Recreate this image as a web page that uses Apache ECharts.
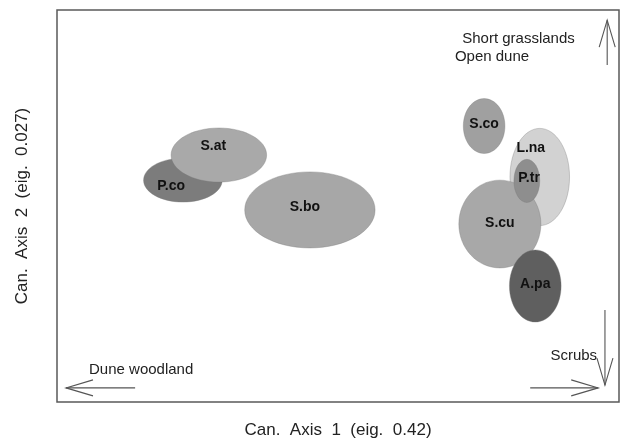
<!DOCTYPE html>
<html><head><meta charset="utf-8">
<script src="https://cdn.jsdelivr.net/npm/echarts@6/dist/echarts.min.js"></script>
<style>html,body{margin:0;padding:0;background:#fff}#c{width:623px;height:445px}</style>
</head><body><div id="c"></div>
<script>
// Species (draw order), centres and semi-axes in canonical-plot units (x 0-100, y 0-100)
const species = ['P.co','S.at','S.bo','S.co','L.na','S.cu','P.tr','A.pa'];
const centerX = [22.4, 28.8, 45.0, 76.0, 85.9, 78.8, 83.6, 85.1];
const centerY = [56.6, 63.0, 49.0, 70.4, 57.4, 45.4, 56.4, 29.6];
const radiusX = [7.0, 8.5, 11.6, 3.7, 5.3, 7.3, 2.3, 4.6];
const radiusY = [5.6, 6.9, 9.7, 7.0, 12.4, 11.2, 5.5, 9.2];
const labelX  = [20.3, 27.8, 44.1, 76.0, 84.3, 78.8, 84.0, 85.1];
const labelY  = [55.1, 65.3, 49.7, 70.9, 64.8, 45.7, 57.1, 30.1];
const fills   = ['#7c7c7c','#a9a9a9','#a7a7a7','#a0a0a0','#d2d2d2','#a8a8a8','#8e8e8e','#5f5f5f'];

// Direction arrows: [fromX, fromY, tipX, tipY]
const arrows = [
  [13.9, 3.6, 1.6, 3.6],
  [84.2, 3.6, 96.3, 3.6],
  [97.9, 86.0, 97.9, 97.4],
  [97.5, 23.5, 97.5, 4.3]
];
// Annotation texts: [text, x, y, align]
const notes = [
  ['Short grasslands', 72.1, 92.7, 'left'],
  ['Open dune', 70.8, 88.1, 'left'],
  ['Dune woodland', 5.7, 8.2, 'left'],
  ['Scrubs', 96.1, 11.7, 'right']
];

const ellipseData = species.map((s,i)=>[centerX[i],centerY[i],radiusX[i],radiusY[i],labelX[i],labelY[i],i]);
const FONT = '"Liberation Sans", Arial, sans-serif';

const chart = echarts.init(document.getElementById('c'), null, {renderer:'canvas'});
chart.setOption({
  animation:false,
  grid:{left:57, top:10, right:4, bottom:43, show:true, borderColor:'#5a5a5a', borderWidth:1.5, backgroundColor:'#fff'},
  xAxis:{type:'value', min:0, max:100, axisLine:{show:false}, axisTick:{show:false}, axisLabel:{show:false}, splitLine:{show:false},
    name:'Can.  Axis  1  (eig.  0.42)', nameLocation:'middle', nameGap:20,
    nameTextStyle:{fontFamily:FONT, fontSize:17, color:'#222'}},
  yAxis:{type:'value', min:0, max:100, axisLine:{show:false}, axisTick:{show:false}, axisLabel:{show:false}, splitLine:{show:false},
    name:'Can.  Axis  2  (eig.  0.027)', nameLocation:'middle', nameGap:26,
    nameTextStyle:{fontFamily:FONT, fontSize:17, color:'#222'}},
  series:[
    {
      type:'custom', coordinateSystem:'cartesian2d', data:ellipseData,
      renderItem:function(params, api){
        const c = api.coord([api.value(0), api.value(1)]);
        const sz = api.size([api.value(2), api.value(3)]);
        const idx = api.value(6);
        return {type:'ellipse', shape:{cx:c[0], cy:c[1], rx:sz[0], ry:sz[1]},
          style:{fill:fills[idx], stroke:'rgba(120,120,120,0.35)', lineWidth:1}};
      }
    },
    {
      type:'custom', coordinateSystem:'cartesian2d', data:ellipseData, z:5,
      renderItem:function(params, api){
        const p = api.coord([api.value(4), api.value(5)]);
        const idx = api.value(6);
        return {type:'text', x:p[0], y:p[1], style:{text:species[idx], fill:'#111',
          font:'bold 14px ' + FONT, align:'center', verticalAlign:'middle'}};
      }
    },
    {
      type:'custom', coordinateSystem:'cartesian2d', data:arrows, z:4,
      renderItem:function(params, api){
        const a = api.coord([api.value(0), api.value(1)]);
        const b = api.coord([api.value(2), api.value(3)]);
        const dx=b[0]-a[0], dy=b[1]-a[1], L=Math.hypot(dx,dy), ux=dx/L, uy=dy/L;
        const hl=27, hw=8;
        const p1=[b[0]-ux*hl-uy*hw, b[1]-uy*hl+ux*hw];
        const p2=[b[0]-ux*hl+uy*hw, b[1]-uy*hl-ux*hw];
        const st={stroke:'#555', lineWidth:1.1, fill:null};
        return {type:'group', children:[
          {type:'line', shape:{x1:a[0],y1:a[1],x2:b[0],y2:b[1]}, style:st},
          {type:'polyline', shape:{points:[p1,b,p2]}, style:st}
        ]};
      }
    },
    {
      type:'custom', coordinateSystem:'cartesian2d', data:notes.map(n=>[n[1],n[2]]), z:4,
      renderItem:function(params, api){
        const p = api.coord([api.value(0), api.value(1)]);
        const n = notes[params.dataIndex];
        return {type:'text', x:p[0], y:p[1], style:{text:n[0], fill:'#222',
          font:'15px ' + FONT, align:n[3], verticalAlign:'middle'}};
      }
    }
  ]
});
</script></body></html>
